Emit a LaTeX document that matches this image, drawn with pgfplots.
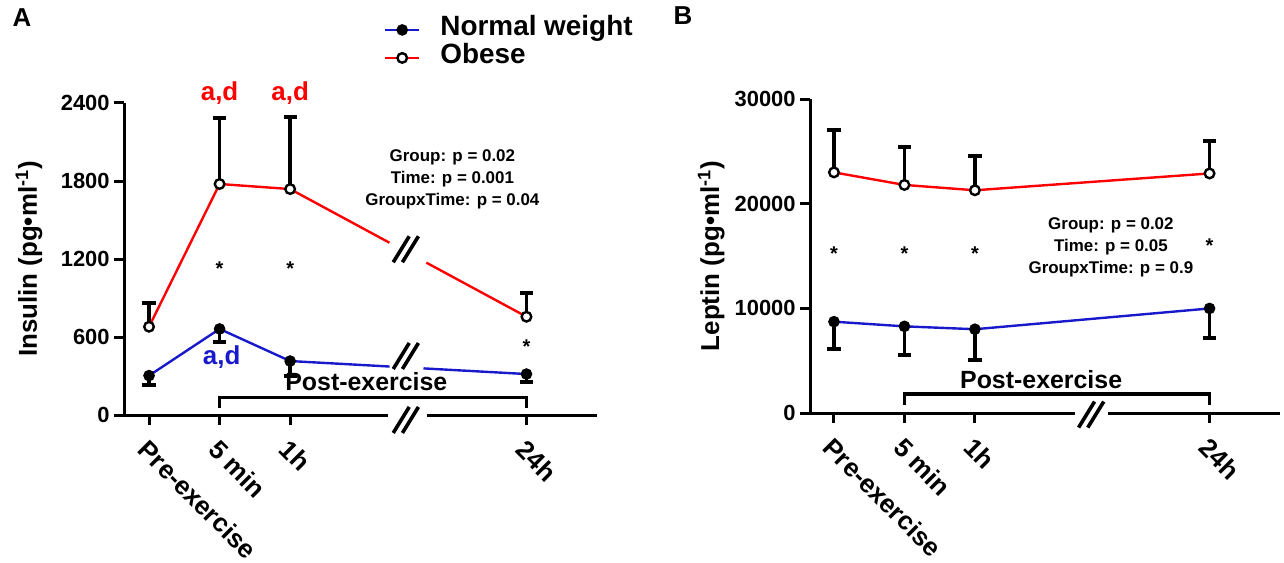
\documentclass[border=0pt]{standalone}
\usepackage{pgfplots}
\pgfplotsset{compat=1.18}
\usepackage{fontspec}
\setmainfont{Liberation Sans}
\definecolor{nblue}{RGB}{25,25,204}
\definecolor{ored}{RGB}{255,0,0}
\newcommand{\brk}[1]{\draw[line width=1.8bp,black] (#1) ++(-6.3bp,-6.5bp) -- ++(8bp,13bp) (#1) ++(-1.7bp,-6.5bp) -- ++(8bp,13bp);}
\begin{document}
\begin{tikzpicture}[x=1bp,y=1bp]
\useasboundingbox (0,0) rectangle (642,281);
\pgfplotsset{
  myaxis/.style={
    scale only axis,
    axis y line=left,
    axis x line=bottom,
    axis line style={-, line width=1.5bp, black},
    x axis line style={draw=none},
    tick align=outside,
    major tick length=5bp,
    tick style={line width=1.5bp, black},
    xticklabel style={yshift=-5bp, xshift=0.5bp, rotate=-45, anchor=north west, inner sep=1bp, font=\fontsize{13}{15}\selectfont\bfseries},
    yticklabel style={font=\fontsize{11}{13}\selectfont\bfseries, inner sep=2bp},
    /pgf/number format/assume math mode=true,
    /pgf/number format/set thousands separator={},
    ylabel style={font=\fontsize{13}{15}\selectfont\bfseries, anchor=center},
    clip=false,
    legend image code/.code={\draw[mark repeat=2,mark phase=2,##1] plot coordinates {(0bp,0bp) (8.5bp,0bp) (17bp,0bp)};},
  },
  nw/.style={nblue, line width=1.2bp, mark=*, mark size=2.5bp, mark options={draw=black, fill=black, line width=0.8bp},
    error bars/.cd, y dir=minus, y explicit, error bar style={black, line width=1.8bp}, error mark options={black, line width=2bp, mark size=3.3bp, rotate=90}},
  ob/.style={ored, line width=1.2bp, mark=*, mark size=2.4bp, mark options={draw=black, fill=white, line width=1.2bp},
    error bars/.cd, y dir=plus, y explicit, error bar style={black, line width=1.8bp}, error mark options={black, line width=2bp, mark size=3.3bp, rotate=90}},
}
% Panel letters
\node[font=\fontsize{13}{15}\selectfont\bfseries] at (11,272) {A};
\node[font=\fontsize{13}{15}\selectfont\bfseries] at (341.5,273) {B};

% ---------------- Panel A ----------------
\begin{axis}[myaxis,
  at={(62bp,73.5bp)}, anchor=south west,
  width=236.5bp, height=156bp,
  xmin=-0.355, xmax=6.35, ymin=0, ymax=2400,
  xtick={0,1,2,5.35}, xticklabels={Pre-exercise,5 min,1h,24h},
  ytick={0,600,1200,1800,2400},
  ylabel={Insulin (pg\textbullet ml\textsuperscript{-1})},
  ylabel style={at={(axis description cs:-0.201,0.5)}},
  legend style={at={(axis description cs:0.5497,1.279)}, anchor=north west, draw=none, fill=none,
    inner sep=0pt, outer sep=0pt,
    font=\fontsize{14}{16}\selectfont\bfseries, nodes={text height=10bp, text depth=4bp, inner sep=0pt},
    /tikz/every odd column/.append style={column sep=10bp}},
  legend cell align=left,
]
\addplot[nw] coordinates {(0,303) +- (0,72) (1,662) +- (0,98) (2,415) +- (0,115) (5.35,315) +- (0,59)};
\addlegendentry{Normal weight}
\addplot[ob] coordinates {(0,679) +- (0,182) (1,1777) +- (0,508) (2,1738) +- (0,554) (5.35,756) +- (0,180)};
\addlegendentry{Obese}
% x axis with gap
\draw[line width=1.5bp] (axis cs:-0.355,0) -- (axis cs:3.39,0);
\draw[line width=1.5bp] (axis cs:3.94,0) -- (axis cs:6.35,0);
% gaps in lines
\draw[white, line width=4bp] (axis cs:3.41,1325) -- (axis cs:3.93,1173);
\draw[white, line width=4bp] (axis cs:3.41,372) -- (axis cs:3.89,358);
\brk{axis cs:3.64,1275}
\brk{axis cs:3.64,454}
\brk{axis cs:3.64,-38}
% bracket
\draw[line width=1.8bp] (axis cs:1,54) -- (axis cs:1,134) -- (axis cs:5.35,134) -- (axis cs:5.35,54);
\node[font=\fontsize{12.5}{14}\selectfont\bfseries] at (axis cs:3.08,254) {Post-exercise};
% annotations
\node[ored, font=\fontsize{13}{15}\selectfont\bfseries] at (axis cs:1,2479) {a,d};
\node[ored, font=\fontsize{13}{15}\selectfont\bfseries] at (axis cs:2,2479) {a,d};
\node[nblue, font=\fontsize{13}{15}\selectfont\bfseries] at (axis cs:1.03,448) {a,d};
\node[font=\fontsize{10}{12}\selectfont\bfseries] at (axis cs:1,1125) {*};
\node[font=\fontsize{10}{12}\selectfont\bfseries] at (axis cs:2,1125) {*};
\node[font=\fontsize{10}{12}\selectfont\bfseries] at (axis cs:5.35,522) {*};
\node[font=\fontsize{8.5}{11}\selectfont\bfseries, align=center] at (axis cs:4.3,1815) {Group: p = 0.02\\Time: p = 0.001\\GroupxTime: p = 0.04};
\end{axis}

% ---------------- Panel B ----------------
\begin{axis}[myaxis,
  at={(405bp,74.5bp)}, anchor=south west,
  width=235bp, height=157bp,
  xmin=-0.34, xmax=6.33, ymin=0, ymax=30000,
  xtick={0,1,2,5.33}, xticklabels={Pre-exercise,5 min,1h,24h},
  ytick={0,10000,20000,30000},
  scaled y ticks=false,
  ylabel={Leptin (pg\textbullet ml\textsuperscript{-1})},
  ylabel style={at={(axis description cs:-0.21,0.5)}},
]
\addplot[nw] coordinates {(0,8724) +- (0,2566) (1,8279) +- (0,2737) (2,8005) +- (0,2976) (5.33,9989) +- (0,2805)};
\addplot[ob] coordinates {(0,22990) +- (0,4036) (1,21790) +- (0,3594) (2,21280) +- (0,3250) (5.33,22886) +- (0,3114)};
\draw[line width=1.5bp] (axis cs:-0.34,0) -- (axis cs:3.42,0);
\draw[line width=1.5bp] (axis cs:3.89,0) -- (axis cs:6.33,0);
\brk{axis cs:3.65,-150}
\draw[line width=1.8bp] (axis cs:1,764) -- (axis cs:1,1815) -- (axis cs:5.33,1815) -- (axis cs:5.33,764);
\node[font=\fontsize{12.5}{14}\selectfont\bfseries] at (axis cs:2.94,3200) {Post-exercise};
\node[font=\fontsize{10}{12}\selectfont\bfseries] at (axis cs:0,15250) {*};
\node[font=\fontsize{10}{12}\selectfont\bfseries] at (axis cs:1,15250) {*};
\node[font=\fontsize{10}{12}\selectfont\bfseries] at (axis cs:2,15250) {*};
\node[font=\fontsize{10}{12}\selectfont\bfseries] at (axis cs:5.33,15950) {*};
\node[font=\fontsize{8.5}{11}\selectfont\bfseries, align=center] at (axis cs:3.93,15812) {Group: p = 0.02\\Time: p = 0.05\\GroupxTime: p = 0.9};
\end{axis}
\end{tikzpicture}
\end{document}
